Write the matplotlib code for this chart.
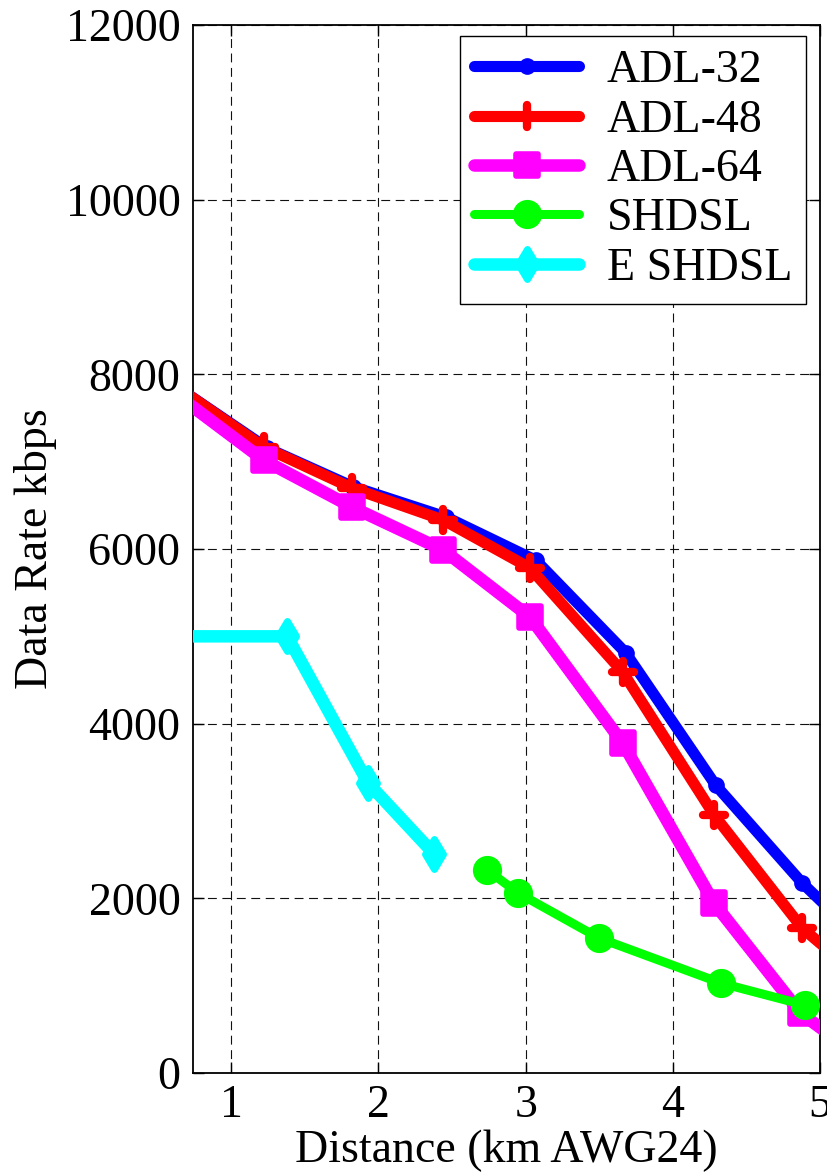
import matplotlib
matplotlib.use("Agg")
import matplotlib.pyplot as plt
from matplotlib.markers import MarkerStyle

# ---- data ----
x_adl32 = [0.62, 1.245, 1.83, 2.46, 3.07, 3.68, 4.29, 4.88, 5.5]
y_adl32 = [7870, 7155, 6712, 6366, 5870, 4811, 3298, 2174, 1170]

x_adl48 = [0.62, 1.22, 1.82, 2.44, 3.03, 3.66, 4.28, 4.88, 5.5]
y_adl48 = [7870, 7168, 6698, 6332, 5782, 4590, 2955, 1658, 771]

x_adl64 = [0.62, 1.22, 1.82, 2.44, 3.03, 3.66, 4.28, 4.87, 5.3]
y_adl64 = [7777, 7018, 6480, 5988, 5220, 3777, 1945, 683, 150]

x_shdsl = [2.74, 2.95, 3.50, 4.33, 4.90]
y_shdsl = [2323, 2060, 1544, 1028, 776]

x_eshdsl = [0.5, 1.38, 1.93, 2.38]
y_eshdsl = [5000, 5000, 3319, 2505]

labels = ["ADL-32", "ADL-48", "ADL-64", "SHDSL", "E SHDSL"]
xticks = [1, 2, 3, 4, 5]
yticks = [0, 2000, 4000, 6000, 8000, 10000, 12000]

plt.rcParams['font.family'] = ['Liberation Serif', 'DejaVu Serif']
FS = 33

fig = plt.figure(figsize=(8.27, 11.73), dpi=100)
W, H = 827, 1173
ax = fig.add_axes([193 / W, 1 - 1073 / H, (820 - 193) / W, (1073 - 25) / H])

def ms(m):
    return MarkerStyle(m, joinstyle='round', capstyle='round')

ax.plot(x_adl32, y_adl32, color='#0000ff', lw=8, marker='o', ms=11,
        solid_capstyle='round', solid_joinstyle='round', label=labels[0], zorder=3)
ax.plot(x_adl48, y_adl48, color='#ff0000', lw=8, marker=ms('+'), ms=16, mew=6,
        solid_capstyle='round', solid_joinstyle='round', label=labels[1], zorder=4)
ax.plot(x_adl64, y_adl64, color='#ff00ff', lw=9, marker=ms('s'), ms=16, mew=4,
        solid_capstyle='round', solid_joinstyle='round', label=labels[2], zorder=5)
ax.plot(x_shdsl, y_shdsl, color='#00ff00', lw=6.5, marker='o', ms=20,
        solid_capstyle='round', solid_joinstyle='round', label=labels[3], zorder=6)
ax.plot(x_eshdsl, y_eshdsl, color='#00ffff', lw=9, marker=ms('d'), ms=15, mew=5,
        solid_capstyle='round', solid_joinstyle='round', label=labels[4], zorder=6)

ax.set_xlim(0.74, 5.0)
ax.set_ylim(0, 12000)
ax.set_xticks(xticks)
ax.set_yticks(yticks)
ax.set_xticklabels([str(t) for t in xticks])
ax.set_yticklabels([str(t) for t in yticks])
ax.tick_params(direction='in', length=8, width=1, top=True, right=True,
               labelsize=FS, color='black')
ax.tick_params(axis='y', pad=9)
ax.tick_params(axis='x', pad=8)
for s in ax.spines.values():
    s.set_linewidth(1.3)
    s.set_color('black')

ax.grid(True, color='#111111', lw=0.8, linestyle=(0, (8, 5)))
ax.set_axisbelow(True)

ax.set_xlabel("Distance (km AWG24)", fontsize=FS, labelpad=2)
ax.set_ylabel("Data Rate kbps", fontsize=FS, labelpad=6)

leg = ax.legend(loc='upper right', bbox_to_anchor=((806 - 193) / 627, (1073 - 36) / 1048),
                borderaxespad=0, fontsize=FS, handlelength=2.3, handletextpad=0.6,
                labelspacing=0.15, borderpad=0.3, fancybox=False, framealpha=1,
                edgecolor='black')
leg.get_frame().set_linewidth(1.0)

fig.savefig("out.png", dpi=100, facecolor='white')
